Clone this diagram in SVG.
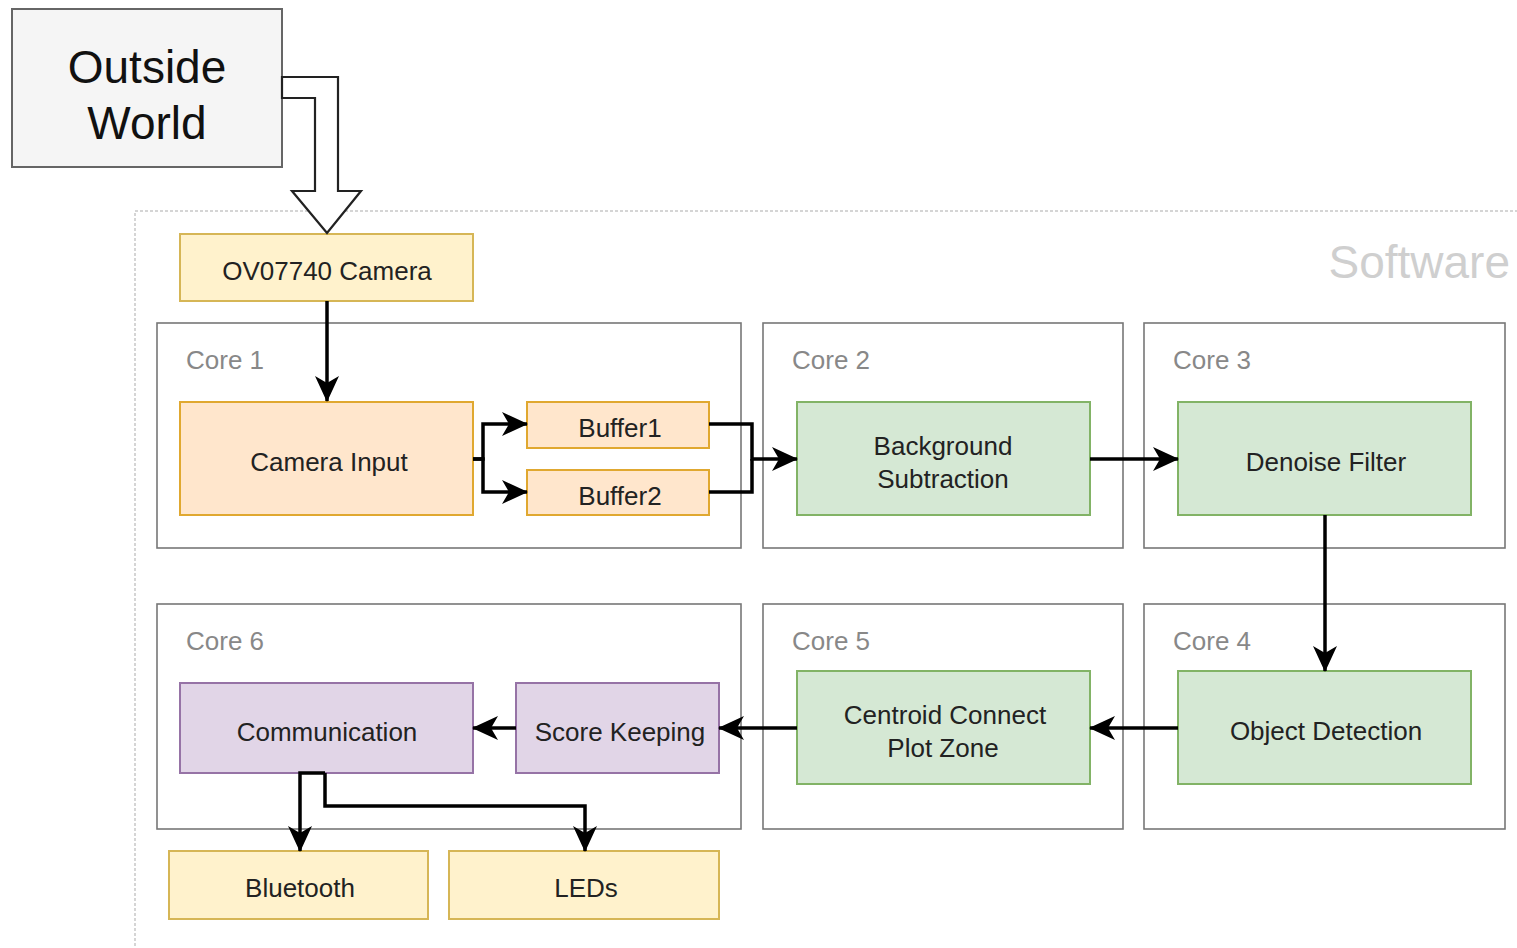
<svg xmlns="http://www.w3.org/2000/svg" width="1517" height="948" viewBox="0 0 1517 948">
<style>
text{font-family:"Liberation Sans",Arial,sans-serif;fill:#222;text-anchor:middle}
.core{fill:#fff;stroke:#777;stroke-width:1.6}
.clabel{font-size:26px;fill:#888;text-anchor:start}
.n{font-size:26px}
.yellow{fill:#fff2cc;stroke:#d6b656;stroke-width:2}
.orange{fill:#ffe6cc;stroke:#e0a830;stroke-width:2}
.green{fill:#d5e8d4;stroke:#82b366;stroke-width:2}
.purple{fill:#e1d5e7;stroke:#9673a6;stroke-width:2}
.e{fill:none;stroke:#000;stroke-width:3.5}
</style>
<defs>
<marker id="ah" viewBox="0 0 26 26" refX="25" refY="13" markerWidth="26" markerHeight="26" markerUnits="userSpaceOnUse" orient="auto">
<path d="M0,1 L26,13 L0,25 L7,13 Z" fill="#000"/>
</marker>
</defs>
<rect width="1517" height="948" fill="#fff"/>
<g id="software">
<rect x="135" y="211" width="1400" height="760" fill="none" stroke="#c8c8c8" stroke-width="1.5" stroke-dasharray="3 2"/>
<text x="1510" y="278" style="font-size:46px;fill:#cfcfcf;text-anchor:end">Software</text>
</g>
<g id="core1"><rect class="core" x="157" y="323" width="584" height="225"/><text class="clabel" x="186" y="369">Core 1</text></g>
<g id="core2"><rect class="core" x="763" y="323" width="360" height="225"/><text class="clabel" x="792" y="369">Core 2</text></g>
<g id="core3"><rect class="core" x="1144" y="323" width="361" height="225"/><text class="clabel" x="1173" y="369">Core 3</text></g>
<g id="core6"><rect class="core" x="157" y="604" width="584" height="225"/><text class="clabel" x="186" y="650">Core 6</text></g>
<g id="core5"><rect class="core" x="763" y="604" width="360" height="225"/><text class="clabel" x="792" y="650">Core 5</text></g>
<g id="core4"><rect class="core" x="1144" y="604" width="361" height="225"/><text class="clabel" x="1173" y="650">Core 4</text></g>
<g id="outside">
<rect x="12" y="9" width="270" height="158" fill="#f5f5f5" stroke="#666" stroke-width="2"/>
<text x="147" y="83" style="font-size:46px;fill:#111">Outside</text>
<text x="147" y="139" style="font-size:46px;fill:#111">World</text>
</g>
<g id="camera"><rect class="yellow" x="180" y="234" width="293" height="67"/><text class="n" x="327" y="280">OV07740 Camera</text></g>
<g id="cameraInput"><rect class="orange" x="180" y="402" width="293" height="113"/><text class="n" x="329" y="471">Camera Input</text></g>
<g id="buffer1"><rect class="orange" x="527" y="402" width="182" height="46"/><text class="n" x="620" y="437">Buffer1</text></g>
<g id="buffer2"><rect class="orange" x="527" y="470" width="182" height="45"/><text class="n" x="620" y="505">Buffer2</text></g>
<g id="bgsub"><rect class="green" x="797" y="402" width="293" height="113"/><text class="n" x="943" y="455">Background</text><text class="n" x="943" y="488">Subtraction</text></g>
<g id="denoise"><rect class="green" x="1178" y="402" width="293" height="113"/><text class="n" x="1326" y="471">Denoise Filter</text></g>
<g id="objdet"><rect class="green" x="1178" y="671" width="293" height="113"/><text class="n" x="1326" y="740">Object Detection</text></g>
<g id="centroid"><rect class="green" x="797" y="671" width="293" height="113"/><text class="n" x="945" y="724">Centroid Connect</text><text class="n" x="943" y="757">Plot Zone</text></g>
<g id="score"><rect class="purple" x="516" y="683" width="203" height="90"/><text class="n" x="620" y="741">Score Keeping</text></g>
<g id="comm"><rect class="purple" x="180" y="683" width="293" height="90"/><text class="n" x="327" y="741">Communication</text></g>
<g id="bluetooth"><rect class="yellow" x="169" y="851" width="259" height="68"/><text class="n" x="300" y="897">Bluetooth</text></g>
<g id="leds"><rect class="yellow" x="449" y="851" width="270" height="68"/><text class="n" x="586" y="897">LEDs</text></g>
<g id="connectors">
<polygon points="282,77 338,77 338,191 361,191 327,233 292,191 315,191 315,98 282,98" fill="#fff" stroke="#222" stroke-width="2.2" stroke-linejoin="miter"/>
<path class="e" d="M327,301 V401" marker-end="url(#ah)"/>
<path class="e" d="M473,459 H483 V424 H527" marker-end="url(#ah)"/>
<path class="e" d="M473,459 H483 V492 H527" marker-end="url(#ah)"/>
<path class="e" d="M709,424 H752 V459 H797" marker-end="url(#ah)"/>
<path class="e" d="M709,492 H752 V459"/>
<path class="e" d="M1090,459 H1178" marker-end="url(#ah)"/>
<path class="e" d="M1325,515 V671" marker-end="url(#ah)"/>
<path class="e" d="M1178,728 H1090" marker-end="url(#ah)"/>
<path class="e" d="M797,728 H719" marker-end="url(#ah)"/>
<path class="e" d="M516,728 H473" marker-end="url(#ah)"/>
<path class="e" d="M325,773 H300 V851" marker-end="url(#ah)"/>
<path class="e" d="M325,773 V806 H585 V851" marker-end="url(#ah)"/>
</g>
</svg>
